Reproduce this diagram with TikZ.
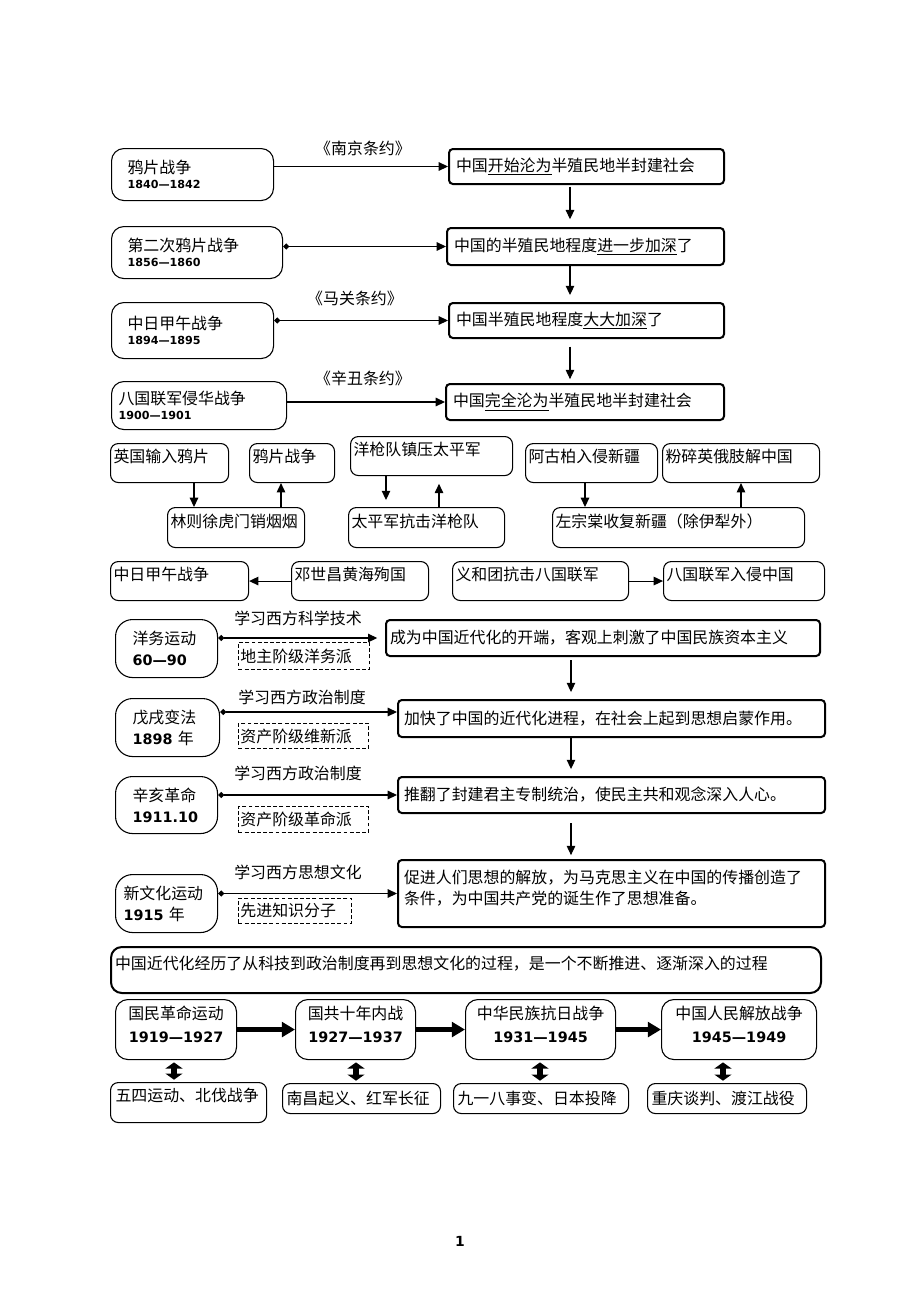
\documentclass[tikz,border=0pt]{standalone}
\usepackage{fontspec}
\setmainfont{Noto Sans CJK SC}
\newfontfamily\numf{DejaVu Sans}
\usetikzlibrary{positioning,arrows.meta}
\newcommand\pxl{0.647pt}
\newcommand\yrsmall[1]{{\numf\bfseries\fontsize{7.2}{8}\selectfont #1}}
\newcommand\yrbig[1]{{\numf\bfseries\fontsize{9.3}{11}\selectfont #1}}

\begin{document}
\begin{tikzpicture}[
    x=0.647pt, y=-0.647pt,
    % --- 通用 ---
    every node/.style={font=\fontsize{10.3}{13.5}\selectfont, inner ysep=2pt},
    wh/.style n args={3}{text width=#1*\pxl-2*#3*\pxl, inner xsep=#3*\pxl, minimum height=#2*\pxl},
    % 细框 / 粗框
    box/.style={draw, line width=0.7pt, anchor=north west, align=left, rounded corners=#1},
    box/.default=4.5pt,
    thickbox/.style={box=#1, line width=1.3pt},
    thickbox/.default=2.5pt,
    warbox/.style={box=8pt},
    sbox/.style={box=5pt, text depth=9pt},
    dbox/.style={draw, dashed, dash pattern=on 2.5pt off 1.5pt, line width=0.6pt, anchor=north west, align=left},
    % 箭头
    arr/.style={line width=0.7pt, -{Triangle[length=6pt,width=5.5pt]}},
    darr/.style={line width=0.7pt, {Diamond[length=4pt,width=4pt]}-{Triangle[length=6pt,width=5.5pt]}},
    bigarr/.style={line width=2.8pt, -{Triangle[length=8.5pt,width=9.5pt]}},
    dblarr/.style={line width=4.2pt, {Triangle[length=4pt,width=11pt]}-{Triangle[length=4pt,width=11pt]}, shorten <=1.5pt, shorten >=1.5pt}
  ]
  \useasboundingbox (0,0) rectangle (920,1302);

  % 战争与条约
  \node[warbox, wh={162}{52}{16}] (w1) at (111,148) {鸦片战争\\[-4pt]\yrsmall{1840—1842}};
  \node[warbox, wh={171}{52}{16}] (w2) at (111,226) {第二次鸦片战争\\[-4pt]\yrsmall{1856—1860}};
  \node[warbox, wh={162}{56}{16}] (w3) at (111,302) {中日甲午战争\\[-4pt]\yrsmall{1894—1895}};
  \node[warbox, wh={175}{48}{7}] (w4) at (111,381) {八国联军侵华战争\\[-4pt]\yrsmall{1900—1901}};

  \node[thickbox, wh={275}{35}{7}] (r1) at (448,148) {中国\underline{开始沦为}半殖民地半封建社会};
  \node[thickbox, wh={277}{37}{7}] (r2) at (446,227) {中国的半殖民地程度\underline{进一步加深}了};
  \node[thickbox, wh={275}{35}{7}] (r3) at (448,302) {中国半殖民地程度\underline{大大加深}了};
  \node[thickbox, wh={278}{36}{7}] (r4) at (445,383) {中国\underline{完全沦为}半殖民地半封建社会};

  \node (t1) at (363,148) {《南京条约》};
  \node (t3) at (355,298) {《马关条约》};
  \node (t4) at (363,378) {《辛丑条约》};

  \draw[arr] (w1.east |- r1.west) -- (r1.west);
  \draw[darr] (w2.east |- r2.west) -- (r2.west);
  \draw[darr] (w3.east |- r3.west) -- (r3.west);
  \draw[arr] (w4.east |- r4.west) -- (r4.west);
  \draw[arr, shorten <=1pt, shorten >=5pt] (r1.south -| 570,0) -- (r2.north -| 570,0);
  \draw[arr, shorten >=4.5pt] (r2.south -| 570,0) -- (r3.north -| 570,0);
  \draw[arr, shorten <=5pt, shorten >=2.5pt] (r3.south -| 570,0) -- (r4.north -| 570,0);

  % 因果小框
  \node[sbox, wh={118}{39}{3}] (b1) at (110,443) {英国输入鸦片};
  \node[sbox, wh={85}{39}{3}] (b2) at (249,443) {鸦片战争};
  \node[sbox, wh={137}{40}{3}] (b3) at (167,507) {林则徐虎门销烟烟};
  \node[sbox, wh={162}{39}{3}] (b4) at (350,436) {洋枪队镇压太平军};
  \node[sbox, wh={156}{40}{3}] (b5) at (348,507) {太平军抗击洋枪队};
  \node[sbox, wh={132}{39}{3}] (b6) at (525,443) {阿古柏入侵新疆};
  \node[sbox, wh={157}{39}{3}] (b7) at (662,443) {粉碎英俄肢解中国};
  \node[sbox, wh={252}{40}{3}] (b8) at (552,507) {左宗棠收复新疆（除伊犁外）};
  \node[sbox, wh={138}{39}{3}] (b9) at (110,561) {中日甲午战争};
  \node[sbox, wh={137}{39}{3}] (b10) at (291,561) {邓世昌黄海殉国};
  \node[sbox, wh={176}{39}{3}] (b11) at (452,561) {义和团抗击八国联军};
  \node[sbox, wh={161}{39}{3}] (b12) at (663,561) {八国联军入侵中国};

  \draw[arr] (b1.south -| 194,0) -- (b3.north -| 194,0);
  \draw[arr] (b3.north -| 281,0) -- (b2.south -| 281,0);
  \draw[arr, shorten >=4.5pt] (b4.south -| 386,0) -- (b5.north -| 386,0);
  \draw[arr, shorten >=5pt] (b5.north -| 439,0) -- (b4.south -| 439,0);
  \draw[arr] (b6.south -| 585,0) -- (b8.north -| 585,0);
  \draw[arr] (b8.north -| 741,0) -- (b7.south -| 741,0);
  \draw[arr] (b10.west) -- (b9.east);
  \draw[arr] (b11.east) -- (b12.west);

  % 近代化探索
  \node[box=11pt, wh={102}{58}{17}] (m1) at (115,619) {洋务运动\\\yrbig{60—90}};
  \node[box=11pt, wh={104}{58}{17}] (m2) at (115,698) {戊戌变法\\\yrbig{1898} 年};
  \node[box=11pt, wh={102}{57}{17}] (m3) at (115,776) {辛亥革命\\\yrbig{1911.10}};
  \node[box=11pt, wh={102}{58}{8}] (m4) at (115,874) {新文化运动\\\yrbig{1915} 年};

  \node (l1) at (298,618) {学习西方科学技术};
  \node (l2) at (302,697) {学习西方政治制度};
  \node (l3) at (298,773) {学习西方政治制度};
  \node (l4) at (298,872) {学习西方思想文化};

  \node[dbox, wh={131}{27}{2}] (d1) at (238,642) {地主阶级洋务派};
  \node[dbox, wh={130}{25}{2}] (d2) at (238,723) {资产阶级维新派};
  \node[dbox, wh={130}{26}{2}] (d3) at (238,806) {资产阶级革命派};
  \node[dbox, wh={113}{25}{2}] (d4) at (238,898) {先进知识分子};

  \node[thickbox, wh={434}{36}{4}] (s1) at (385,619) {成为中国近代化的开端，客观上刺激了中国民族资本主义};
  \node[thickbox, wh={427}{37}{6}] (s2) at (397,699) {加快了中国的近代化进程，在社会上起到思想启蒙作用。};
  \node[thickbox, wh={427}{36}{6}] (s3) at (397,776) {推翻了封建君主专制统治，使民主共和观念深入人心。};
  \node[thickbox, wh={427}{67}{6}, text depth=22pt] (s4) at (397,859) {促进人们思想的解放，为马克思主义在中国的传播创造了\\条件，为中国共产党的诞生作了思想准备。};

  \draw[darr, shorten >=5pt] (m1.east |- s1.west) -- (s1.west);
  \draw[darr] (m2.east |- 0,712) -- (s2.west |- 0,712);
  \draw[darr] (m3.east |- s3.west) -- (s3.west);
  \draw[darr] (m4.east |- s4.west) -- (s4.west);
  \draw[arr, shorten <=2pt, shorten >=4.5pt] (s1.south -| 571,0) -- (s2.north -| 571,0);
  \draw[arr, shorten >=4.5pt] (s2.south -| 571,0) -- (s3.north -| 571,0);
  \draw[arr, shorten <=6pt, shorten >=2.5pt] (s3.south -| 571,0) -- (s4.north -| 571,0);

  % 总结
  \node[thickbox=7pt, wh={710}{46}{4}, text depth=10pt] (sum) at (110,946) {中国近代化经历了从科技到政治制度再到思想文化的过程，是一个不断推进、逐渐深入的过程};

  % 新民主主义革命
  \node[box=8pt, align=center, wh={121}{60}{3}, text depth=22pt] (p1) at (115,999) {国民革命运动\\[1.5pt]\yrbig{1919—1927}};
  \node[box=8pt, align=center, wh={120}{60}{3}, text depth=22pt] (p2) at (295,999) {国共十年内战\\[1.5pt]\yrbig{1927—1937}};
  \node[box=8pt, align=center, wh={150}{60}{3}, text depth=22pt] (p3) at (465,999) {中华民族抗日战争\\[1.5pt]\yrbig{1931—1945}};
  \node[box=8pt, align=center, wh={155}{60}{3}, text depth=22pt] (p4) at (661,999) {中国人民解放战争\\[1.5pt]\yrbig{1945—1949}};

  \node[box=5pt, wh={156}{40}{5}, text depth=10pt] (q1) at (110,1082) {五四运动、北伐战争};
  \node[box=5pt, wh={158}{30}{4}] (q2) at (282,1083) {南昌起义、红军长征};
  \node[box=5pt, wh={175}{30}{4}] (q3) at (453,1083) {九一八事变、日本投降};
  \node[box=5pt, wh={159}{30}{4}] (q4) at (647,1083) {重庆谈判、渡江战役};

  \draw[bigarr] (p1.east) -- (p2.west);
  \draw[bigarr] (p2.east) -- (p3.west);
  \draw[bigarr] (p3.east) -- (p4.west);
  \draw[dblarr] (p1.south -| 174,0) -- (q1.north -| 174,0);
  \draw[dblarr] (p2.south -| 356,0) -- (q2.north -| 356,0);
  \draw[dblarr] (p3.south -| 540,0) -- (q3.north -| 540,0);
  \draw[dblarr] (p4.south -| 723,0) -- (q4.north -| 723,0);

  \node[font=\numf\bfseries\fontsize{9}{10}\selectfont] (pg) at (460,1241) {1};
\end{tikzpicture}
\end{document}
